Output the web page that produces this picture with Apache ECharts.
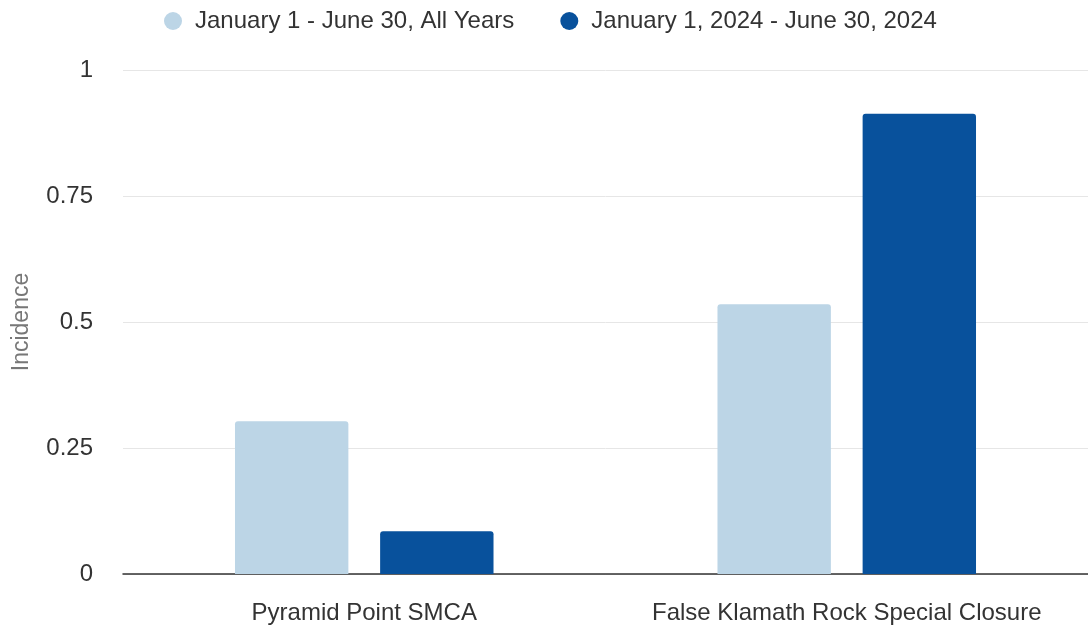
<!DOCTYPE html>
<html>
<head>
<meta charset="utf-8">
<script src="https://cdn.jsdelivr.net/npm/echarts@6/dist/echarts.min.js"></script>
<style>html,body{margin:0;padding:0;background:#fff}#c{width:1088px;height:634px}</style>
</head>
<body>
<div id="c"></div>
<script>
const categories = ["Pyramid Point SMCA", "False Klamath Rock Special Closure"];
const seriesNames = ["January 1 - June 30, All Years", "January 1, 2024 - June 30, 2024"];
const allYears = [0.303, 0.535];
const year2024 = [0.085, 0.913];
const yTicks = [0, 0.25, 0.5, 0.75, 1];

const font = "'Liberation Sans', Arial, sans-serif";
const chart = echarts.init(document.getElementById('c'));
chart.setOption({
  animation: false,
  textStyle: {fontFamily: font},
  legend: {
    top: 4, left: 159,
    icon: 'circle', itemWidth: 18, itemHeight: 18, itemGap: 46,
    textStyle: {fontSize: 24, color: '#333', fontFamily: font, padding: [0, 0, 0, 8]},
    data: seriesNames
  },
  grid: {left: 123, right: -3, top: 70, bottom: 60},
  xAxis: {
    type: 'category', data: categories,
    axisLine: {lineStyle: {color: '#333', width: 1.5}},
    axisTick: {show: false},
    axisLabel: {fontSize: 24, color: '#333', margin: 27, fontFamily: font, interval: 0, hideOverlap: false}
  },
  yAxis: {
    type: 'value', min: 0, max: 1, interval: 0.25,
    name: 'Incidence', nameLocation: 'middle', nameGap: 90,
    nameTextStyle: {fontSize: 23, color: '#777', fontFamily: font},
    axisLabel: {fontSize: 24, color: '#333', margin: 30, fontFamily: font,
      formatter: v => yTicks.includes(v) ? String(v) : ''},
    splitLine: {lineStyle: {color: '#e6e6e6'}}
  },
  series: [
    {name: seriesNames[0], type: 'bar', data: allYears, barWidth: '23.5%', barGap: '28%',
     itemStyle: {color: '#bcd5e6', borderRadius: [3,3,0,0]}},
    {name: seriesNames[1], type: 'bar', data: year2024, barWidth: '23.5%',
     itemStyle: {color: '#08519c', borderRadius: [3,3,0,0]}}
  ]
});
</script>
</body>
</html>
